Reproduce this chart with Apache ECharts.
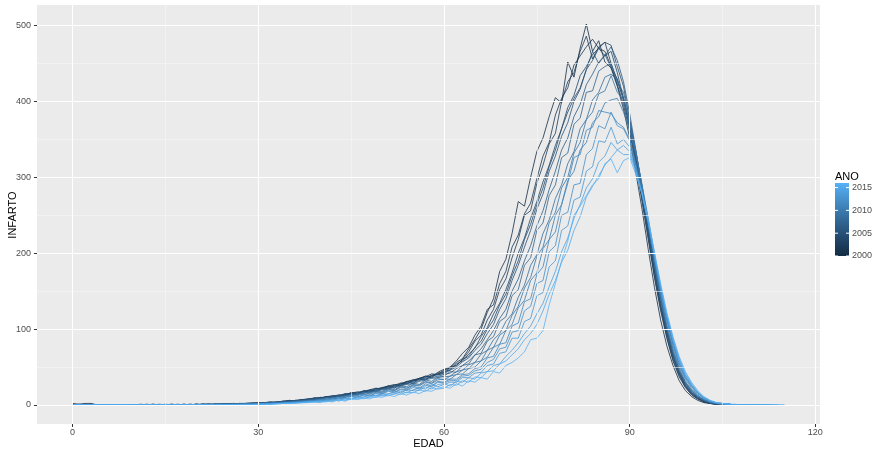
<!DOCTYPE html>
<html><head><meta charset="utf-8">
<script src="https://cdn.jsdelivr.net/npm/echarts@6/dist/echarts.min.js"></script>
<style>html,body{margin:0;padding:0;background:#fff}#c{width:872px;height:450px}</style>
</head><body><div id="c"></div><script>
// ---- DATA: INFARTO by EDAD (index = age), one array per ANO ----
const anos = [2000,2001,2002,2003,2004,2005,2006,2007,2008,2009,2010,2011,2012,2013,2014,2015,2016];
const y2000 = [2,1,2,2,0,0,0,0,0,0, 0,0,1,0,0,0,1,0,0,0, 1,0,1,1,1,1,2,1,2,2, 3,2,3,4,4,6,5,5,7,9, 8,11,9,12,14,15,13,18,19,17, 22,25,22,28,31,28,35,37,41,40, 46,49,56,61,74,86,100,122,140,176, 192,226,268,262,300,334,352,380,405,398, 452,432,470,502,466,480,452,444,420,390, 352,306,258,205,155,112,78,52,32,19, 11,6,3,2,1,0,0,0,0,0];
const y2001 = [1,0,0,1,0,0,0,0,0,0, 0,0,0,1,0,0,0,0,1,0, 0,1,1,0,1,2,1,2,1,2, 2,3,3,3,5,4,6,7,6,9, 9,11,10,13,12,16,17,15,20,22, 21,25,27,26,31,33,35,38,37,43, 47,50,58,68,76,92,104,126,132,160, 176,208,224,252,266,298,328,346,382,404, 418,448,460,472,482,470,466,446,422,396, 360,316,268,218,168,124,88,58,37,23, 13,8,4,2,1,1,0,0,0,0];
const y2002 = [0,0,1,0,0,0,0,0,0,0, 0,1,0,0,0,0,0,1,0,0, 1,0,0,1,1,1,2,1,2,3, 2,3,4,3,4,6,5,7,8,7, 10,9,12,11,14,16,15,18,17,21, 23,22,26,29,28,32,35,34,39,41, 43,50,52,60,70,84,92,112,126,152, 166,194,218,250,256,292,316,344,358,400, 426,438,466,486,456,472,478,450,428,402, 366,320,272,222,170,128,90,60,39,24, 14,8,4,2,1,0,0,0,0,0];
const y2003 = [0,0,0,0,0,0,0,0,0,0, 0,0,0,0,0,1,0,0,0,1, 0,1,1,1,0,1,1,2,2,2, 3,2,3,4,5,5,6,6,8,9, 9,11,12,12,15,14,17,18,20,19, 23,25,24,28,30,33,34,38,36,42, 44,46,54,58,67,75,90,102,120,134, 152,174,200,220,246,268,294,316,342,364, 392,408,434,446,462,470,460,466,438,404, 370,326,278,226,176,130,94,63,41,25, 15,9,5,3,1,1,0,0,0,0];
const y2004 = [1,0,0,0,0,0,0,0,0,0, 0,0,0,0,1,0,0,0,0,0, 1,1,0,1,1,1,1,2,2,1, 3,3,4,3,5,6,5,7,7,9, 10,10,12,13,12,16,15,19,18,22, 21,24,26,25,30,31,34,33,38,40, 42,48,52,60,64,76,84,100,112,132, 146,170,190,218,238,264,286,314,336,364, 386,404,418,442,454,470,478,474,446,420, 376,330,280,230,178,133,96,65,43,27, 16,10,5,3,2,1,0,0,0,0];
const y2005 = [0,1,0,0,0,0,0,0,0,0, 0,0,0,0,0,0,0,0,1,0, 0,1,1,1,1,1,1,1,2,2, 2,3,3,4,4,5,6,6,7,8, 9,10,11,13,14,13,16,17,19,20, 22,23,26,27,28,32,33,36,39,40, 41,46,50,57,62,72,80,94,106,126, 140,164,184,208,230,258,278,308,328,354, 372,400,416,442,466,450,462,444,430,404, 366,324,276,228,178,132,96,65,42,26, 15,9,5,2,1,1,0,0,0,0];
const y2006 = [0,0,0,0,0,0,0,0,0,0, 0,0,0,1,0,0,0,0,0,1, 0,0,1,0,1,1,2,1,1,2, 2,2,3,3,4,4,5,6,7,7, 8,10,10,12,13,14,15,17,17,19, 21,22,24,26,28,30,32,35,36,38, 40,42,48,52,58,66,74,86,98,114, 126,150,166,190,210,236,256,284,308,336, 352,380,396,422,436,452,460,472,454,426, 384,336,286,234,183,138,99,67,44,28, 17,10,6,3,2,1,0,0,0,0];
const y2007 = [0,0,0,0,0,0,0,0,0,0, 0,0,0,0,0,0,1,0,0,0, 1,0,0,1,1,1,1,1,2,2, 2,3,3,3,4,5,5,6,6,8, 8,9,10,11,12,14,14,16,17,18, 20,21,23,25,27,28,31,33,35,36, 38,44,43,52,54,66,68,84,90,110, 116,144,152,184,194,230,240,276,290,326, 332,370,378,412,414,440,446,450,424,412, 376,334,286,236,186,141,101,69,45,29, 18,11,6,3,2,1,1,0,0,0,0];
const y2008 = [0,0,0,0,0,0,0,0,0,0, 0,0,0,0,0,0,0,0,0,0, 0,1,0,1,1,1,1,1,1,2, 2,2,3,3,4,4,5,5,6,7, 7,10,8,12,10,14,13,17,15,19, 18,22,20,25,24,29,27,33,31,37, 37,38,44,46,53,56,67,72,86,94, 110,120,142,158,184,198,226,244,272,290, 318,334,364,376,402,412,432,436,428,404, 374,334,288,238,188,143,103,71,47,30, 19,11,6,3,2,1,1,0,0,0,0];
const y2009 = [0,0,0,0,0,0,0,0,0,0, 0,0,0,0,0,0,0,0,0,0, 0,0,1,0,1,1,1,1,1,1, 2,2,2,3,3,4,4,5,6,6, 8,7,10,9,12,11,15,13,16,18, 17,21,19,24,22,27,26,31,29,35, 33,38,40,46,48,56,58,72,76,92, 98,118,130,154,168,196,208,240,254,286, 300,332,346,376,386,410,414,434,412,402, 370,334,290,242,192,146,106,74,49,31, 20,12,7,4,2,1,1,0,0,0,0,0];
const y2010 = [0,0,0,0,0,0,0,0,0,0, 0,0,0,0,0,0,0,0,0,0, 0,0,0,1,0,1,1,1,1,1, 1,2,2,3,3,3,4,5,5,6, 6,8,7,10,10,13,12,15,14,17, 16,20,19,23,22,26,25,30,28,33, 34,34,40,41,48,50,58,63,76,80, 98,106,128,138,164,174,206,218,250,264, 296,308,336,346,372,380,398,402,404,386, 362,330,290,246,198,152,112,78,52,34, 22,13,7,4,2,1,1,0,0,0,0,0,0];
const y2011 = [0,0,0,0,0,0,0,0,0,0, 0,0,0,0,0,0,0,0,0,0, 0,0,0,0,1,0,1,1,1,1, 1,2,2,2,3,3,4,4,5,5, 7,6,9,8,10,12,10,14,12,16, 15,19,17,21,20,25,22,28,25,31, 30,34,34,40,41,48,50,62,64,80, 82,104,108,136,140,172,182,218,228,264, 292,326,330,362,366,388,386,384,372,366, 350,318,282,240,195,150,112,80,54,36, 24,15,8,4,2,1,1,0,0,0,0,0,0,0];
const y2012 = [0,0,0,0,0,0,0,0,0,0, 0,0,0,0,0,0,0,0,0,0, 0,0,0,0,0,1,0,1,1,1, 1,1,2,2,3,3,3,4,5,5, 5,7,6,9,8,11,10,13,12,15, 14,18,16,20,19,23,21,26,24,30, 29,32,32,38,39,45,47,56,60,74, 76,96,98,124,130,160,164,202,210,250, 254,290,292,330,338,368,364,386,368,364, 348,315,280,240,196,152,114,82,56,37, 25,15,9,5,3,1,1,0,0,0,0,0,0,0];
const y2013 = [0,0,0,0,0,0,0,0,0,0, 0,0,0,0,0,0,0,0,0,0, 0,0,0,0,0,0,1,0,1,1, 1,1,2,2,2,3,3,4,4,5, 6,5,8,6,9,8,11,10,13,12, 15,14,18,16,20,19,23,21,27,24, 27,30,30,36,36,42,43,52,54,68, 70,88,88,110,114,144,148,182,190,230, 236,270,274,308,314,348,346,366,344,350, 340,312,278,240,196,153,116,84,58,39, 26,16,9,5,3,2,1,0,0,0,0,0,0,0,0];
const y2014 = [0,0,0,0,0,0,0,0,0,0, 0,0,0,0,0,0,0,0,0,0, 0,0,0,0,0,0,0,1,0,1, 1,1,1,2,2,3,3,3,4,4, 4,6,5,8,6,9,8,11,10,13, 12,15,14,18,16,20,19,24,21,27, 28,25,31,30,36,34,42,44,52,54, 64,72,82,94,104,120,134,156,176,202, 220,246,264,286,298,320,328,346,336,342, 334,310,278,242,198,155,118,86,60,40, 27,17,10,5,3,2,1,0,0,0,0,0,0,0,0];
const y2015 = [0,0,0,0,0,0,0,0,0,0, 0,0,0,0,0,0,0,0,0,0, 0,0,0,0,0,0,0,0,1,0, 1,1,1,2,2,2,3,3,4,4, 5,4,7,5,8,7,10,8,11,10, 13,12,15,14,17,16,20,18,23,21, 22,27,26,32,30,37,36,44,45,54, 58,66,74,86,94,106,124,146,164,188, 204,230,248,274,288,302,316,326,336,330, 330,308,278,242,200,158,120,88,62,42, 28,17,10,6,3,2,1,0,0,0,0,0,0,0,0,0];
const y2016 = [0,0,0,0,0,0,0,0,0,0, 0,0,0,0,0,0,0,0,0,0, 0,0,0,0,0,0,0,0,0,0, 1,1,1,1,2,2,2,3,3,4, 3,5,4,7,5,8,7,9,8,11, 10,13,11,15,13,17,15,19,18,22, 24,22,28,25,32,30,36,34,44,42, 52,56,62,70,86,88,98,132,160,190, 216,250,262,276,290,298,318,324,306,322, 326,304,280,245,202,160,122,90,64,44, 30,19,11,6,3,2,1,1,0,0,0,0,0,0,0,0];
const valores = [y2000,y2001,y2002,y2003,y2004,y2005,y2006,y2007,y2008,y2009,y2010,y2011,y2012,y2013,y2014,y2015,y2016];

// ---- ticks & titles ----
const xTicks = [0,30,60,90,120];
const xMinor = [15,45,75,105];
const yTicks = [0,100,200,300,400,500];
const yMinor = [50,150,250,350,450];
const legendTicks = [2000,2005,2010,2015];
const xTitle = 'EDAD', yTitle = 'INFARTO', legendTitle = 'ANO';

// ---- ggplot-like Lab gradient ----
const LOW = '#132B43', HIGH = '#56B1F7';
function hex2rgb(h){return [parseInt(h.slice(1,3),16),parseInt(h.slice(3,5),16),parseInt(h.slice(5,7),16)];}
function s2l(c){c/=255;return c<=0.04045?c/12.92:Math.pow((c+0.055)/1.055,2.4);}
function l2s(c){const v=c<=0.0031308?12.92*c:1.055*Math.pow(Math.max(c,0),1/2.4)-0.055;return Math.round(Math.max(0,Math.min(1,v))*255);}
const Xn=0.95047,Yn=1,Zn=1.08883,D=6/29;
function ff(t){return t>D*D*D?Math.cbrt(t):t/(3*D*D)+4/29;}
function fi(t){return t>D?t*t*t:3*D*D*(t-4/29);}
function rgb2lab(rgb){const [r,g,b]=rgb.map(s2l);
  const X=0.4124*r+0.3576*g+0.1805*b, Y=0.2126*r+0.7152*g+0.0722*b, Z=0.0193*r+0.1192*g+0.9505*b;
  const fx=ff(X/Xn),fy=ff(Y/Yn),fz=ff(Z/Zn);return [116*fy-16,500*(fx-fy),200*(fy-fz)];}
function lab2rgb(L){const fy=(L[0]+16)/116,fx=fy+L[1]/500,fz=fy-L[2]/200;
  const X=Xn*fi(fx),Y=Yn*fi(fy),Z=Zn*fi(fz);
  return [l2s(3.2406*X-1.5372*Y-0.4986*Z),l2s(-0.9689*X+1.8758*Y+0.0415*Z),l2s(0.0557*X-0.2040*Y+1.0570*Z)];}
const labLo=rgb2lab(hex2rgb(LOW)), labHi=rgb2lab(hex2rgb(HIGH));
function gradColor(t){const c=lab2rgb(labLo.map((v,i)=>v+(labHi[i]-v)*t));return 'rgb('+c.join(',')+')';}
const aMin=anos[0], aMax=anos[anos.length-1];

// ---- series ----
const gridSeries = {
  type:'line', data:[], silent:true, z:1, animation:false,
  markLine:{silent:true, symbol:'none', animation:false, label:{show:false},
    data:[].concat(
      xMinor.map(v=>({xAxis:v, lineStyle:{color:'#F7F7F7',width:0.6,type:'solid'}})),
      yMinor.map(v=>({yAxis:v, lineStyle:{color:'#F7F7F7',width:0.6,type:'solid'}})),
      xTicks.map(v=>({xAxis:v, lineStyle:{color:'#FFFFFF',width:1.1,type:'solid'}})),
      yTicks.map(v=>({yAxis:v, lineStyle:{color:'#FFFFFF',width:1.1,type:'solid'}}))
    )}
};
const lineSeries = anos.map((a,i)=>{
  const col = gradColor((a-aMin)/(aMax-aMin));
  return {type:'line', name:String(a), data:valores[i].map((v,k)=>[k,v]),
    symbol:'none', showSymbol:false, silent:true, animation:false, z:3,
    lineStyle:{width:0.8,color:col}, itemStyle:{color:col}};
});

// ---- legend (colour bar) & axis titles ----
const FONT='"Liberation Sans", Arial, sans-serif';
const barX=835, barY=183, barW=14, barH=73;
const stops=[];for(let k=0;k<=20;k++){stops.push({offset:k/20,color:gradColor(1-k/20)});}
const graphics=[
  {type:'text',left:barX,top:barY-12,style:{text:legendTitle,font:'11px '+FONT,fill:'#000'}},
  {type:'rect',shape:{x:barX,y:barY,width:barW,height:barH},style:{fill:new echarts.graphic.LinearGradient(0,0,0,1,stops)}},
  {type:'text',x:428.5,y:444,style:{text:xTitle,font:'11px '+FONT,fill:'#000',align:'center',verticalAlign:'middle'}},
  {type:'text',x:13,y:215,rotation:Math.PI/2,style:{text:yTitle,font:'11px '+FONT,fill:'#000',align:'center',verticalAlign:'middle'}}
];
legendTicks.forEach(t=>{
  const yy = barY+barH-(t-aMin)/(aMax-aMin)*barH;
  graphics.push({type:'line',shape:{x1:barX,y1:yy,x2:barX+3,y2:yy},style:{stroke:'#fff',lineWidth:1}});
  graphics.push({type:'line',shape:{x1:barX+barW-3,y1:yy,x2:barX+barW,y2:yy},style:{stroke:'#fff',lineWidth:1}});
  graphics.push({type:'text',x:barX+barW+3,y:yy,style:{text:String(t),font:'9px '+FONT,fill:'#4D4D4D',verticalAlign:'middle',align:'left'}});
});

const chart = echarts.init(document.getElementById('c'),null,{renderer:'canvas'});
chart.setOption({
  animation:false,
  grid:{left:37,right:52,top:5,bottom:26,show:true,backgroundColor:'#EBEBEB',borderWidth:0,containLabel:false,outerBoundsMode:'none'},
  xAxis:{type:'value',min:-5.75,max:120.75,
    axisLine:{show:false,onZero:false},
    axisTick:{show:true,length:3,lineStyle:{color:'#333',width:1},customValues:xTicks},
    axisLabel:{show:true,margin:4,color:'#4D4D4D',fontSize:9,fontFamily:FONT,customValues:xTicks},
    splitLine:{show:false},minorSplitLine:{show:false}},
  yAxis:{type:'value',min:-25.1,max:527.1,
    axisLine:{show:false,onZero:false},
    axisTick:{show:true,length:3,lineStyle:{color:'#333',width:1},customValues:yTicks},
    axisLabel:{show:true,margin:6,color:'#4D4D4D',fontSize:9,fontFamily:FONT,customValues:yTicks},
    splitLine:{show:false},minorSplitLine:{show:false}},
  graphic:graphics,
  series:[gridSeries].concat(lineSeries)
});
</script></body></html>
